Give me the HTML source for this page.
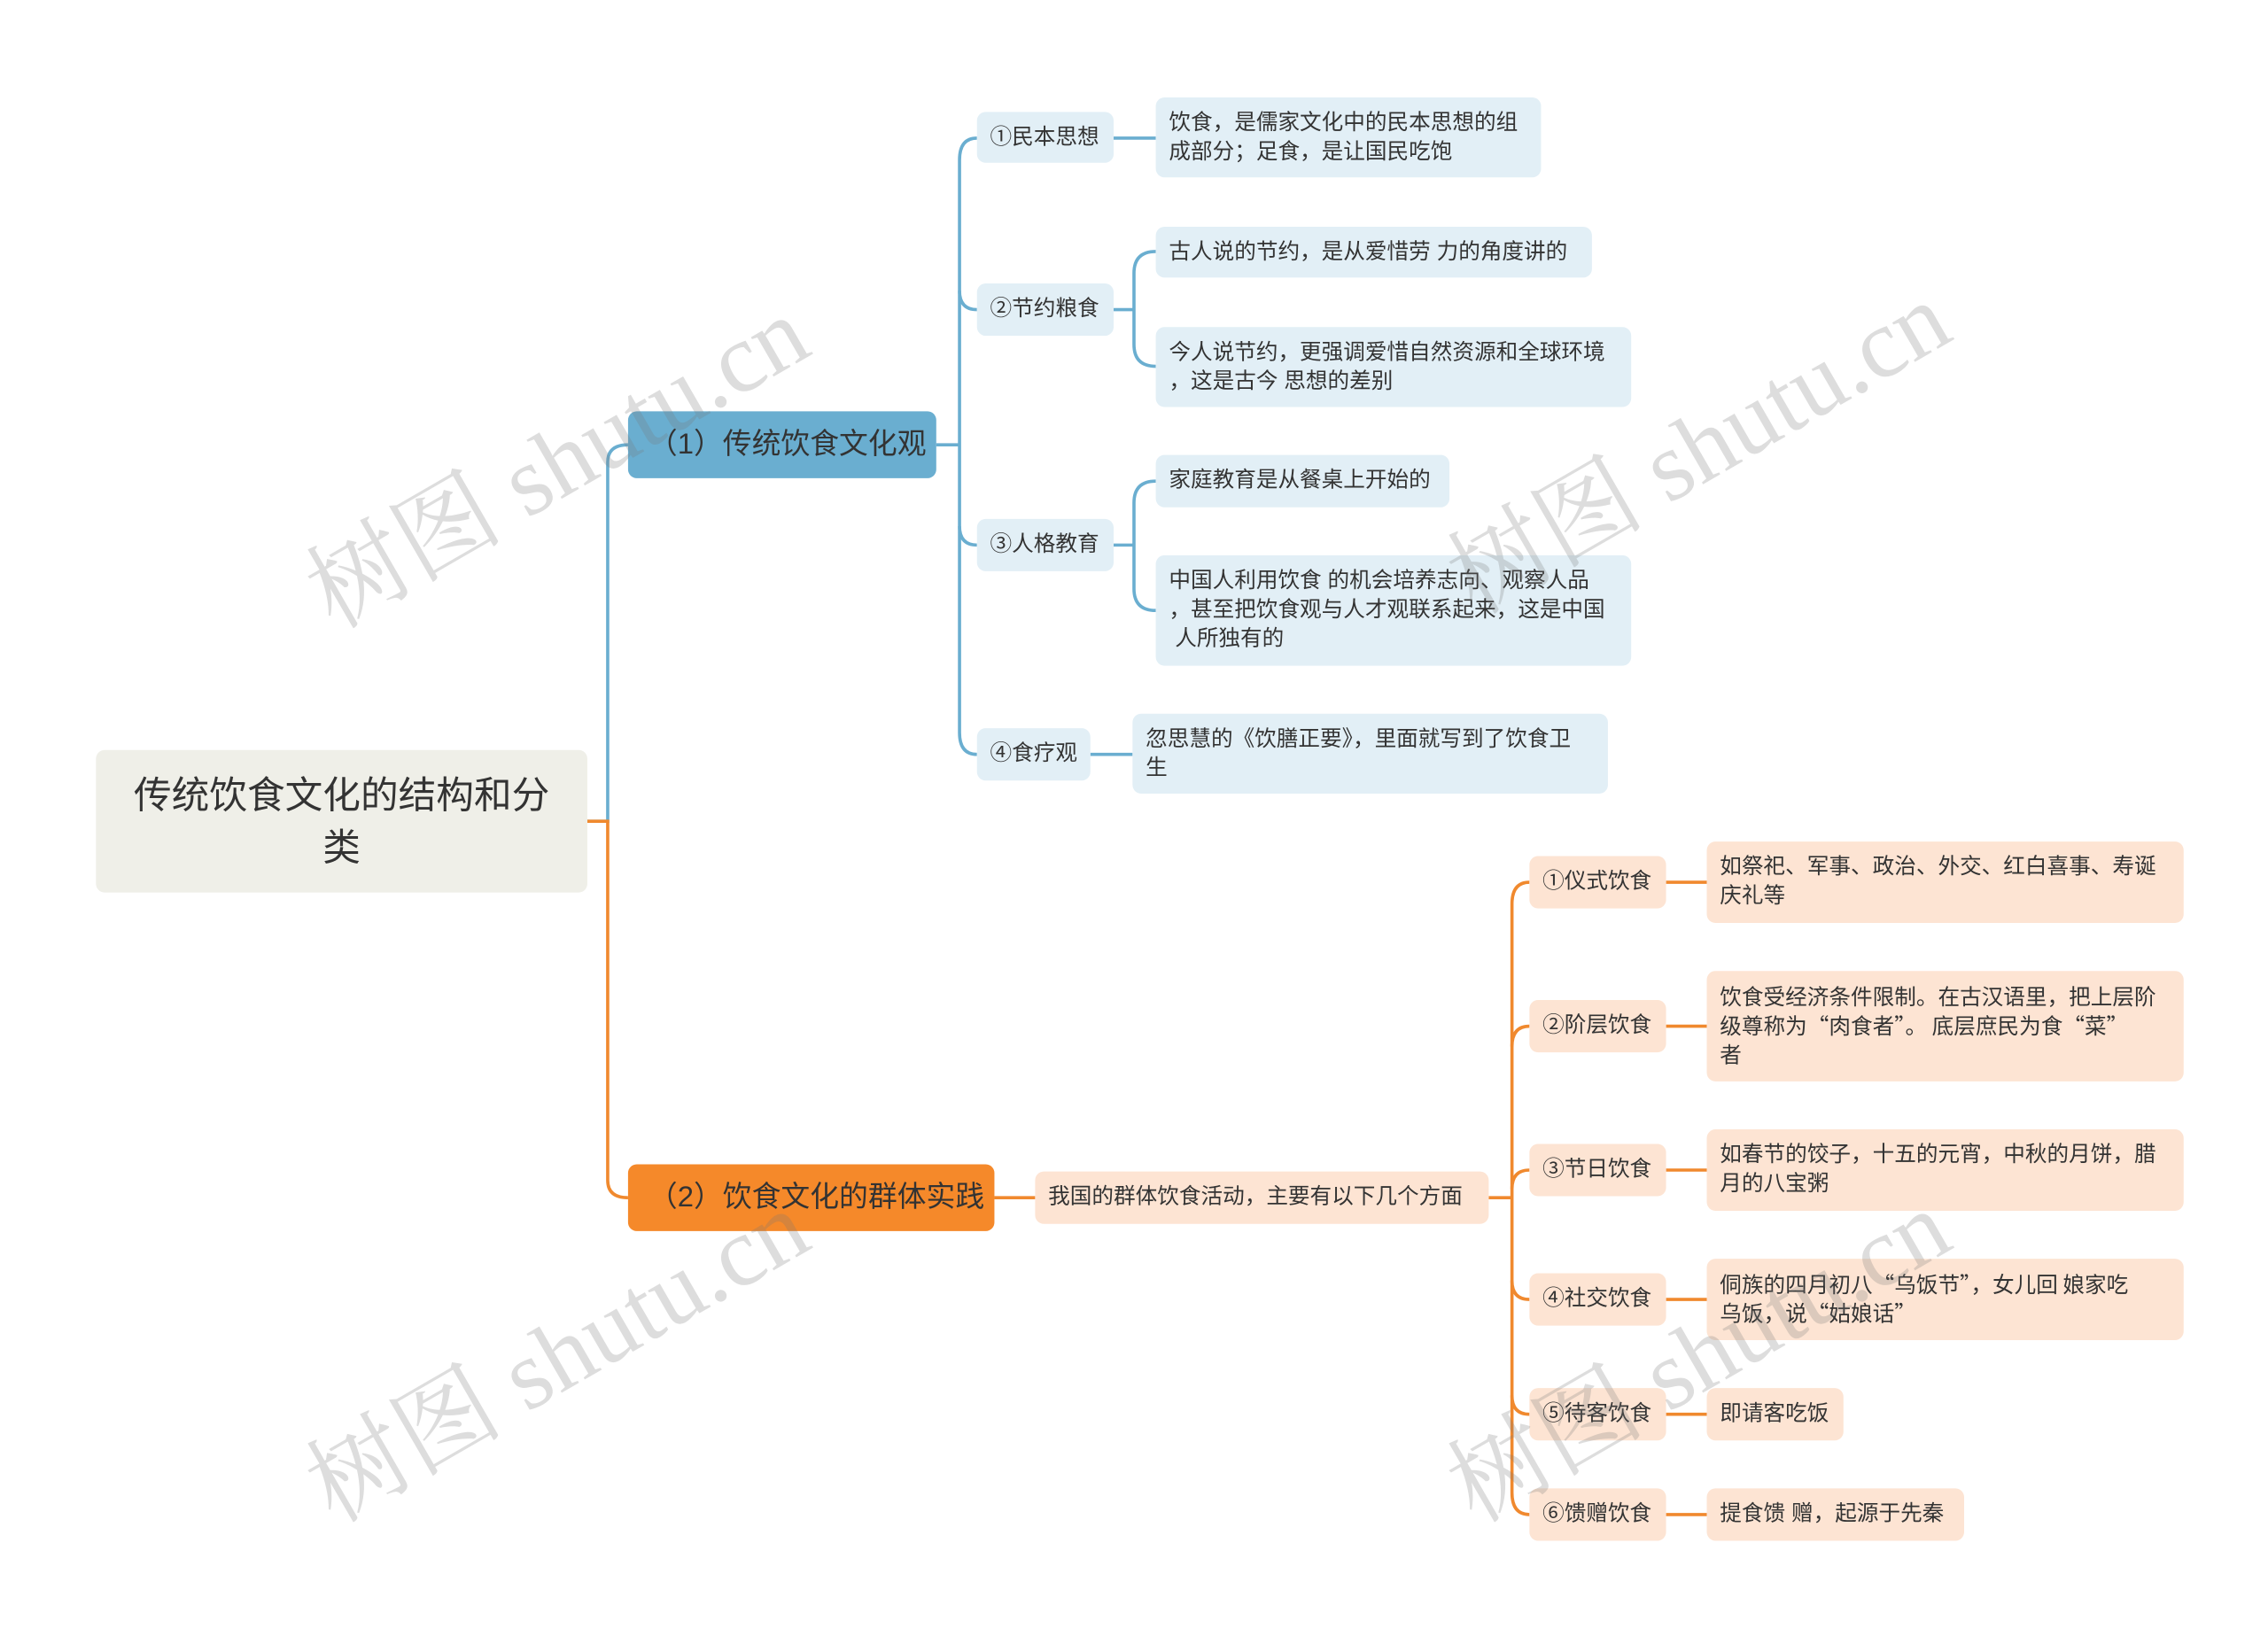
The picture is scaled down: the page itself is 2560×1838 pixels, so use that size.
<!DOCTYPE html>
<html><head><meta charset="utf-8"><style>
html,body{margin:0;padding:0;background:#fff;}
body{width:2560px;height:1838px;overflow:hidden;position:relative;}
#c{position:absolute;left:0;top:0;width:1560px;height:1120px;transform:scale(1.641);transform-origin:0 0;font-family:"Liberation Sans","Noto Sans CJK SC",sans-serif;color:#333;}
.n{position:absolute;box-sizing:border-box;border-radius:6px;display:flex;align-items:center;font-size:15px;line-height:20px;padding:0 9px;white-space:nowrap;}
.b{background:#e2eff6;}
.o{background:#fde4d3;}
.q{font-family:"Noto Sans CJK SC",sans-serif;}
.wm{position:absolute;font-family:"Liberation Serif","Noto Serif CJK SC",serif;font-size:68px;color:rgba(120,120,120,0.25);transform:rotate(-30deg);white-space:nowrap;transform-origin:center;}
svg{position:absolute;left:0;top:0;}
</style></head><body><div id="c">
<svg width="1560" height="1120" fill="none" stroke-width="2.2">
<g stroke="#6aaed0">
<path d="M404 565 H418 V318 Q418 306 432 306"/>
<path d="M644 306 H660"/>
<path d="M672 95 Q660 95 660 110 V504 Q660 519 672 519"/>
<path d="M660 200 Q660 213 672 213"/>
<path d="M660 362 Q660 375 672 375"/>
<path d="M766 95 H795"/>
<path d="M766 213 H780"/>
<path d="M795 173 Q780 173 780 188 V237 Q780 252 795 252"/>
<path d="M766 375 H780"/>
<path d="M795 331 Q780 331 780 346 V405 Q780 420 795 420"/>
<path d="M750 519 H779"/>
</g>
<g stroke="#f0892e">
<path d="M404 565 H418 V812 Q418 824 432 824"/>
<path d="M684 824 H712"/>
<path d="M1024 824 H1040"/>
<path d="M1052 607 Q1040 607 1040 622 V1027 Q1040 1042 1052 1042"/>
<path d="M1040 720 Q1040 706 1052 706"/>
<path d="M1040 818 Q1040 805 1052 805"/>
<path d="M1040 881 Q1040 894 1052 894"/>
<path d="M1040 960 Q1040 973 1052 973"/>
<path d="M1146 607 H1174 M1146 706 H1174 M1146 805 H1174 M1146 894 H1174 M1146 973 H1174 M1146 1042 H1174"/>
</g>
</svg>
<div class="n" style="left:66px;top:516px;width:338px;height:98px;background:#efefe8;font-size:26px;line-height:36px;justify-content:center;text-align:center;white-space:normal;padding:0 20px;">传统饮食文化的结构和分<br>类</div>
<div class="n" style="left:432px;top:283px;width:212px;height:46px;background:#6aaed0;font-size:20px;padding-left:14px;">（1）传统饮食文化观</div>
<div class="n" style="left:432px;top:801px;width:252px;height:46px;background:#f5892a;font-size:20px;padding-left:14px;">（2）饮食文化的群体实践</div>

<div class="n b" style="left:672px;top:77px;width:94px;height:35px;">①民本思想</div>
<div class="n b" style="left:672px;top:195px;width:94px;height:36px;">②节约粮食</div>
<div class="n b" style="left:672px;top:357px;width:94px;height:36px;">③人格教育</div>
<div class="n b" style="left:672px;top:501px;width:78px;height:36px;">④食疗观</div>
<div class="n b" style="left:795px;top:67px;width:265px;height:55px;">饮食，是儒家文化中的民本思想的组<br>成部分；足食，是让国民吃饱</div>
<div class="n b" style="left:795px;top:156px;width:300px;height:35px;">古人说的节约，是从爱惜劳 力的角度讲的</div>
<div class="n b" style="left:795px;top:225px;width:327px;height:55px;">今人说节约，更强调爱惜自然资源和全球环境<br>，这是古今 思想的差别</div>
<div class="n b" style="left:795px;top:313px;width:202px;height:36px;">家庭教育是从餐桌上开始的</div>
<div class="n b" style="left:795px;top:382px;width:327px;height:76px;">中国人利用饮食 的机会培养志向、观察人品<br>，甚至把饮食观与人才观联系起来，这是中国<br>&nbsp;人所独有的</div>
<div class="n b" style="left:779px;top:491px;width:327px;height:55px;">忽思慧的《饮膳正要》，里面就写到了饮食卫<br>生</div>

<div class="n o" style="left:712px;top:806px;width:312px;height:36px;">我国的群体饮食活动，主要有以下几个方面</div>
<div class="n o" style="left:1052px;top:589px;width:94px;height:36px;">①仪式饮食</div>
<div class="n o" style="left:1052px;top:688px;width:94px;height:36px;">②阶层饮食</div>
<div class="n o" style="left:1052px;top:787px;width:94px;height:36px;">③节日饮食</div>
<div class="n o" style="left:1052px;top:876px;width:94px;height:36px;">④社交饮食</div>
<div class="n o" style="left:1052px;top:955px;width:94px;height:36px;">⑤待客饮食</div>
<div class="n o" style="left:1052px;top:1024px;width:94px;height:36px;">⑥馈赠饮食</div>
<div class="n o" style="left:1174px;top:579px;width:328px;height:56px;">如祭祀、军事、政治、外交、红白喜事、寿诞<br>庆礼等</div>
<div class="n o q" style="left:1174px;top:668px;width:328px;height:76px;">饮食受经济条件限制。在古汉语里，把上层阶<br>级尊称为“肉食者”。 底层庶民为食“菜”<br>者</div>
<div class="n o" style="left:1174px;top:777px;width:328px;height:56px;">如春节的饺子，十五的元宵，中秋的月饼，腊<br>月的八宝粥</div>
<div class="n o q" style="left:1174px;top:866px;width:328px;height:56px;">侗族的四月初八“乌饭节”，女儿回 娘家吃<br>乌饭，说“姑娘话”</div>
<div class="n o" style="left:1174px;top:955px;width:94px;height:36px;">即请客吃饭</div>
<div class="n o" style="left:1174px;top:1024px;width:177px;height:36px;">提食馈 赠，起源于先秦</div>

<div class="wm" style="left:190px;top:265px;">树图 shutu.cn</div>
<div class="wm" style="left:975px;top:255px;">树图 shutu.cn</div>
<div class="wm" style="left:190px;top:880px;">树图 shutu.cn</div>
<div class="wm" style="left:975px;top:880px;">树图 shutu.cn</div>
</div></body></html>
